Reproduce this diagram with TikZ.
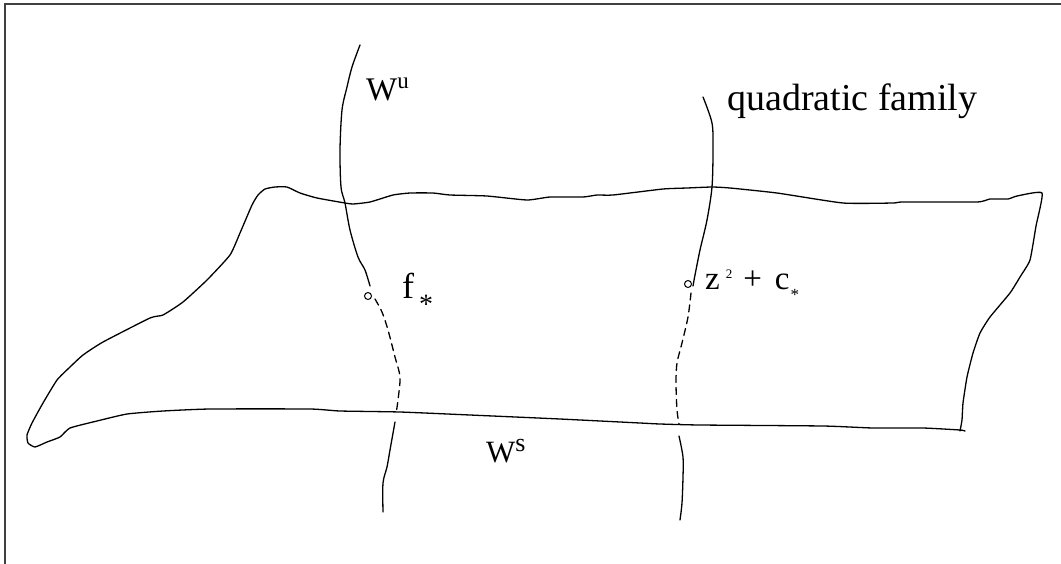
\documentclass[tikz,border=0pt]{standalone}
\usepackage{fontspec}
\setmainfont{Liberation Serif}
\begin{document}
\begin{tikzpicture}[x=1pt,y=-1pt,
  curve/.style={line width=1.3pt, line join=round, line cap=round},
  dashcurve/.style={curve, dash pattern=on 7pt off 5pt},
  pt/.style={circle, draw, minimum size=7pt, inner sep=0pt, line width=1pt},
  lab/.style={inner sep=0pt, anchor=base west}]
\useasboundingbox (0,0) rectangle (1061,563);
\clip (0,0) rectangle (1061,563);
\draw[line width=1.5pt, black!75] (5,4) rectangle (1080,590);

% outline of the region
\draw[curve] plot[smooth, tension=0.3] coordinates {
 (965,431) (960,430) (923,428) (873,428) (823,426) (700,425) (660,424) (640,423)
 (560,419) (470,415) (400,412) (340,411) (310,409) (210,409) (163,411) (127,414)
 (97,421) (70,428) (60,437) (47,442) (35,447) (28,443) (27,435) (32,423) (43,403)
 (57,380) (70,367) (83,355) (103,342) (150,318) (163,315) (183,302) (207,280)
 (230,255) (240,233) (252,205) (258,195) (265,189) (275,187) (287,187) (300,193)
 (317,198) (345,203) (353,204) (370,202) (393,195) (410,193) (433,193) (450,195)
 (487,196) (527,200) (550,197) (583,197) (597,195) (613,195) (663,189) (687,188)
 (712,187) (730,188) (777,193) (843,203) (893,203) (903,202) (977,202) (990,199)
 (1008,199) (1017,196) (1042,193) (1036,226) (1030,260) (1020,277) (1010,293)
 (990,317) (980,333) (973,353) (967,377) (963,403) (962,420) (960,431)};

% unstable manifold W^u
\draw[curve] plot[smooth, tension=0.5] coordinates {
 (360,45) (352,67) (347,87) (342,110) (340,150) (341,187) (345,203) (350,230)
 (358,257) (365,270) (370,286)};
\node[pt] (fs) at (368,296) {};
\draw[dashcurve] plot[smooth, tension=0.5] coordinates {
 (375,299) (382,312) (388,330) (395,357) (400,377) (398,400) (396,414)};
\draw[curve] plot[smooth, tension=0.5] coordinates {
 (395,422) (390,450) (387,467) (383,483) (383,512)};

% quadratic family
\draw[curve] plot[smooth, tension=0.5] coordinates {
 (703,97) (712,123) (713,150) (712,187) (707,220) (700,250) (695,275) (693,286)};
\node[pt] (cs) at (688,284) {};
\draw[dashcurve] plot[smooth, tension=0.5] coordinates {
 (691,293) (688,317) (682,343) (677,363) (676,383) (677,410) (679,424)};
\draw[curve] plot[smooth, tension=0.5] coordinates {
 (679,436) (683,457) (683,477) (682,503) (680,520)};

% labels
\node[lab, font=\fontsize{33}{36}\selectfont] (Wu) at (366,100)
  {W\raisebox{12pt}{\fontsize{23}{23}\selectfont u}};
\node[lab, font=\fontsize{38}{42}\selectfont] (qf) at (727,110) {quadratic family};
\node[lab, font=\fontsize{36}{40}\selectfont] (fl) at (402,298)
  {f\hspace{5pt}\raisebox{-15pt}{\fontsize{28}{28}\selectfont *}};
\node[lab, font=\fontsize{33}{36}\selectfont] (zl) at (705,289)
  {z\hspace{6pt}\raisebox{11pt}{\fontsize{13}{13}\selectfont 2}\hspace{11pt}+\hspace{13pt}c\hspace{1pt}\raisebox{-11pt}{\fontsize{17}{17}\selectfont *}};
\node[lab, font=\fontsize{31}{34}\selectfont] (Ws) at (486,462)
  {W\raisebox{11pt}{\fontsize{26}{26}\selectfont s}};
\end{tikzpicture}
\end{document}
